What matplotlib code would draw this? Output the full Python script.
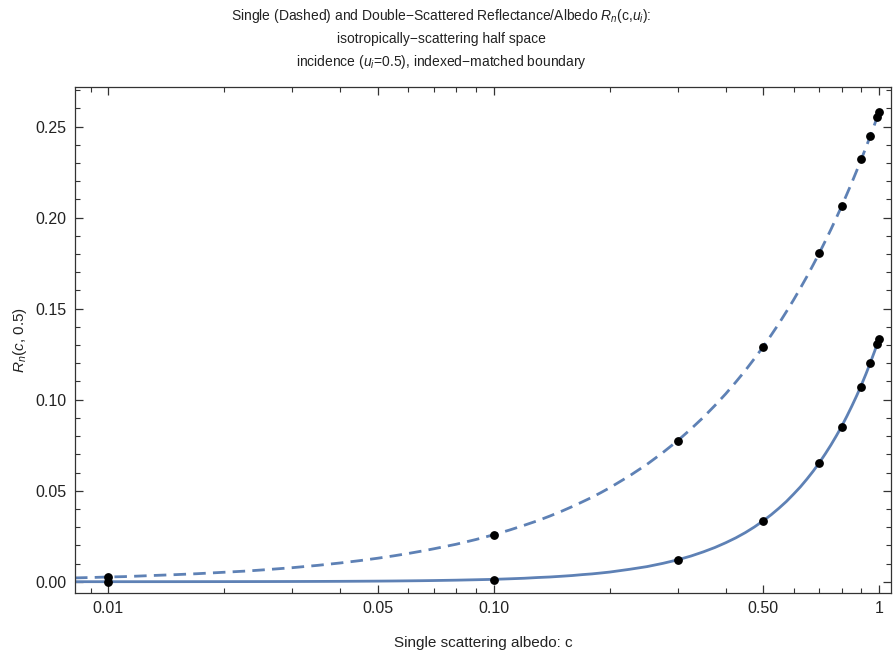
import matplotlib
matplotlib.use("Agg")
import matplotlib.pyplot as plt
from matplotlib.ticker import FixedLocator, FixedFormatter, NullFormatter

plt.rcParams['font.family'] = ['Liberation Sans', 'DejaVu Sans']
plt.rcParams['mathtext.fontset'] = 'custom'
plt.rcParams['mathtext.rm'] = 'Liberation Sans'
plt.rcParams['mathtext.it'] = 'Liberation Sans:italic'

# curves
curve_c = [0.0082, 0.009, 0.01, 0.011, 0.012, 0.013, 0.015, 0.017, 0.02, 0.023, 0.026,
           0.03, 0.035, 0.04, 0.045, 0.05, 0.055, 0.06, 0.065, 0.07, 0.08, 0.09,
           0.1, 0.11, 0.12, 0.13, 0.14, 0.15, 0.16, 0.17, 0.18, 0.19,
           0.2, 0.225, 0.25, 0.275, 0.3, 0.325, 0.35, 0.375, 0.4, 0.425, 0.45, 0.475,
           0.5, 0.525, 0.55, 0.575, 0.6, 0.625, 0.65, 0.675, 0.7, 0.725, 0.75, 0.775,
           0.8, 0.825, 0.85, 0.875, 0.9, 0.925, 0.95, 0.975, 1.0]
single_curve = [0.0021, 0.0023, 0.0026, 0.0028, 0.0031, 0.0034, 0.0039, 0.0044, 0.0052,
                0.0059, 0.0067, 0.0077, 0.0090, 0.0103, 0.0116, 0.0129, 0.0142, 0.0155,
                0.0168, 0.0181, 0.0206, 0.0232,
                0.0258, 0.0284, 0.0310, 0.0335, 0.0361, 0.0387, 0.0413, 0.0439, 0.0464,
                0.0490,
                0.0516, 0.0581, 0.0645, 0.0710, 0.0774, 0.0839, 0.0903, 0.0968, 0.1032,
                0.1097, 0.1161, 0.1226, 0.1290, 0.1355, 0.1419, 0.1484, 0.1548, 0.1613,
                0.1677, 0.1742, 0.1806, 0.1871, 0.1935, 0.2000, 0.2064, 0.2129, 0.2193,
                0.2258, 0.2322, 0.2387, 0.2451, 0.2516, 0.2580]
double_curve = [0.000009, 0.000011, 0.000013, 0.000016, 0.000019, 0.000023, 0.00003,
                0.000039, 0.000053, 0.000071, 0.00009, 0.00012, 0.00016, 0.00021,
                0.00027, 0.00033, 0.0004, 0.00048, 0.00056, 0.00065, 0.00085, 0.00108,
                0.0013, 0.0016, 0.0019, 0.0023, 0.0026, 0.0030, 0.0034, 0.0039, 0.0043,
                0.0048,
                0.0053, 0.0068, 0.0083, 0.0101, 0.0120, 0.0141, 0.0164, 0.0188, 0.0214,
                0.0241, 0.0270, 0.0301, 0.0334, 0.0368, 0.0404, 0.0441, 0.0481, 0.0521,
                0.0564, 0.0608, 0.0654, 0.0702, 0.0751, 0.0802, 0.0854, 0.0909, 0.0965,
                0.1022, 0.1081, 0.1142, 0.1205, 0.1269, 0.1335]

# sampled points
pts_c = [0.01, 0.1, 0.3, 0.5, 0.7, 0.8, 0.9, 0.95, 0.99, 1.0]
pts_single = [0.0026, 0.0257, 0.0775, 0.129, 0.1806, 0.2064, 0.2322, 0.2449, 0.2554, 0.258]
pts_double = [0.00001, 0.0012, 0.0119, 0.0335, 0.065, 0.0848, 0.1072, 0.1203, 0.1308, 0.1335]

x_major = [0.01, 0.05, 0.1, 0.5, 1.0]
x_major_labels = ["0.01", "0.05", "0.10", "0.50", "1"]
x_minor = [0.009, 0.02, 0.03, 0.04, 0.06, 0.07, 0.08, 0.09,
           0.2, 0.3, 0.4, 0.6, 0.7, 0.8, 0.9]
y_major = [0.0, 0.05, 0.10, 0.15, 0.20, 0.25]
y_major_labels = ["0.00", "0.05", "0.10", "0.15", "0.20", "0.25"]
y_minor = [-0.01 + 0.01 * i for i in range(29)]

blue = '#5E81B5'
fig = plt.figure(figsize=(8.93, 6.52), dpi=100)
ax = fig.add_axes([75 / 893, 1 - 593 / 652, 816 / 893, 506 / 652])

ax.plot(curve_c, single_curve, color=blue, lw=2.0, ls=(0, (4.5, 2.6)), zorder=2)
ax.plot(curve_c, double_curve, color=blue, lw=2.0, zorder=2)
ax.plot(pts_c, pts_single, 'o', color='black', ms=5.3, zorder=3)
ax.plot(pts_c, pts_double, 'o', color='black', ms=5.3, zorder=3)

ax.set_xscale('log')
ax.set_xlim(0.0082, 1.074)
ax.set_ylim(-0.0062, 0.2718)

ax.xaxis.set_major_locator(FixedLocator(x_major))
ax.xaxis.set_major_formatter(FixedFormatter(x_major_labels))
ax.xaxis.set_minor_locator(FixedLocator(x_minor))
ax.xaxis.set_minor_formatter(NullFormatter())
ax.yaxis.set_major_locator(FixedLocator(y_major))
ax.yaxis.set_major_formatter(FixedFormatter(y_major_labels))
ax.yaxis.set_minor_locator(FixedLocator(y_minor))

ax.tick_params(which='both', direction='in', top=True, right=True,
               color='#333333', labelsize=11.5, labelcolor='#222222')
ax.tick_params(which='major', length=6, width=0.9, pad=6)
ax.tick_params(which='minor', length=3.5, width=0.8)
for s in ax.spines.values():
    s.set_color('#333333')
    s.set_linewidth(0.9)

ax.set_xlabel("Single scattering albedo: c", fontsize=11, color='#222222', labelpad=14)
ax.set_ylabel("$R_n(c$, 0.5)", fontsize=11, color='#222222', labelpad=5)

title = ("Single (Dashed) and Double\u2212Scattered Reflectance/Albedo $R_n$(c,$u_i$):\n"
         "isotropically\u2212scattering half space\n"
         "incidence ($u_i$=0.5), indexed\u2212matched boundary")
fig.text(0.494, 1 - 7 / 652, title, ha='center', va='top', fontsize=10,
         color='#222222', linespacing=1.6)

fig.savefig("out.png", dpi=100)
